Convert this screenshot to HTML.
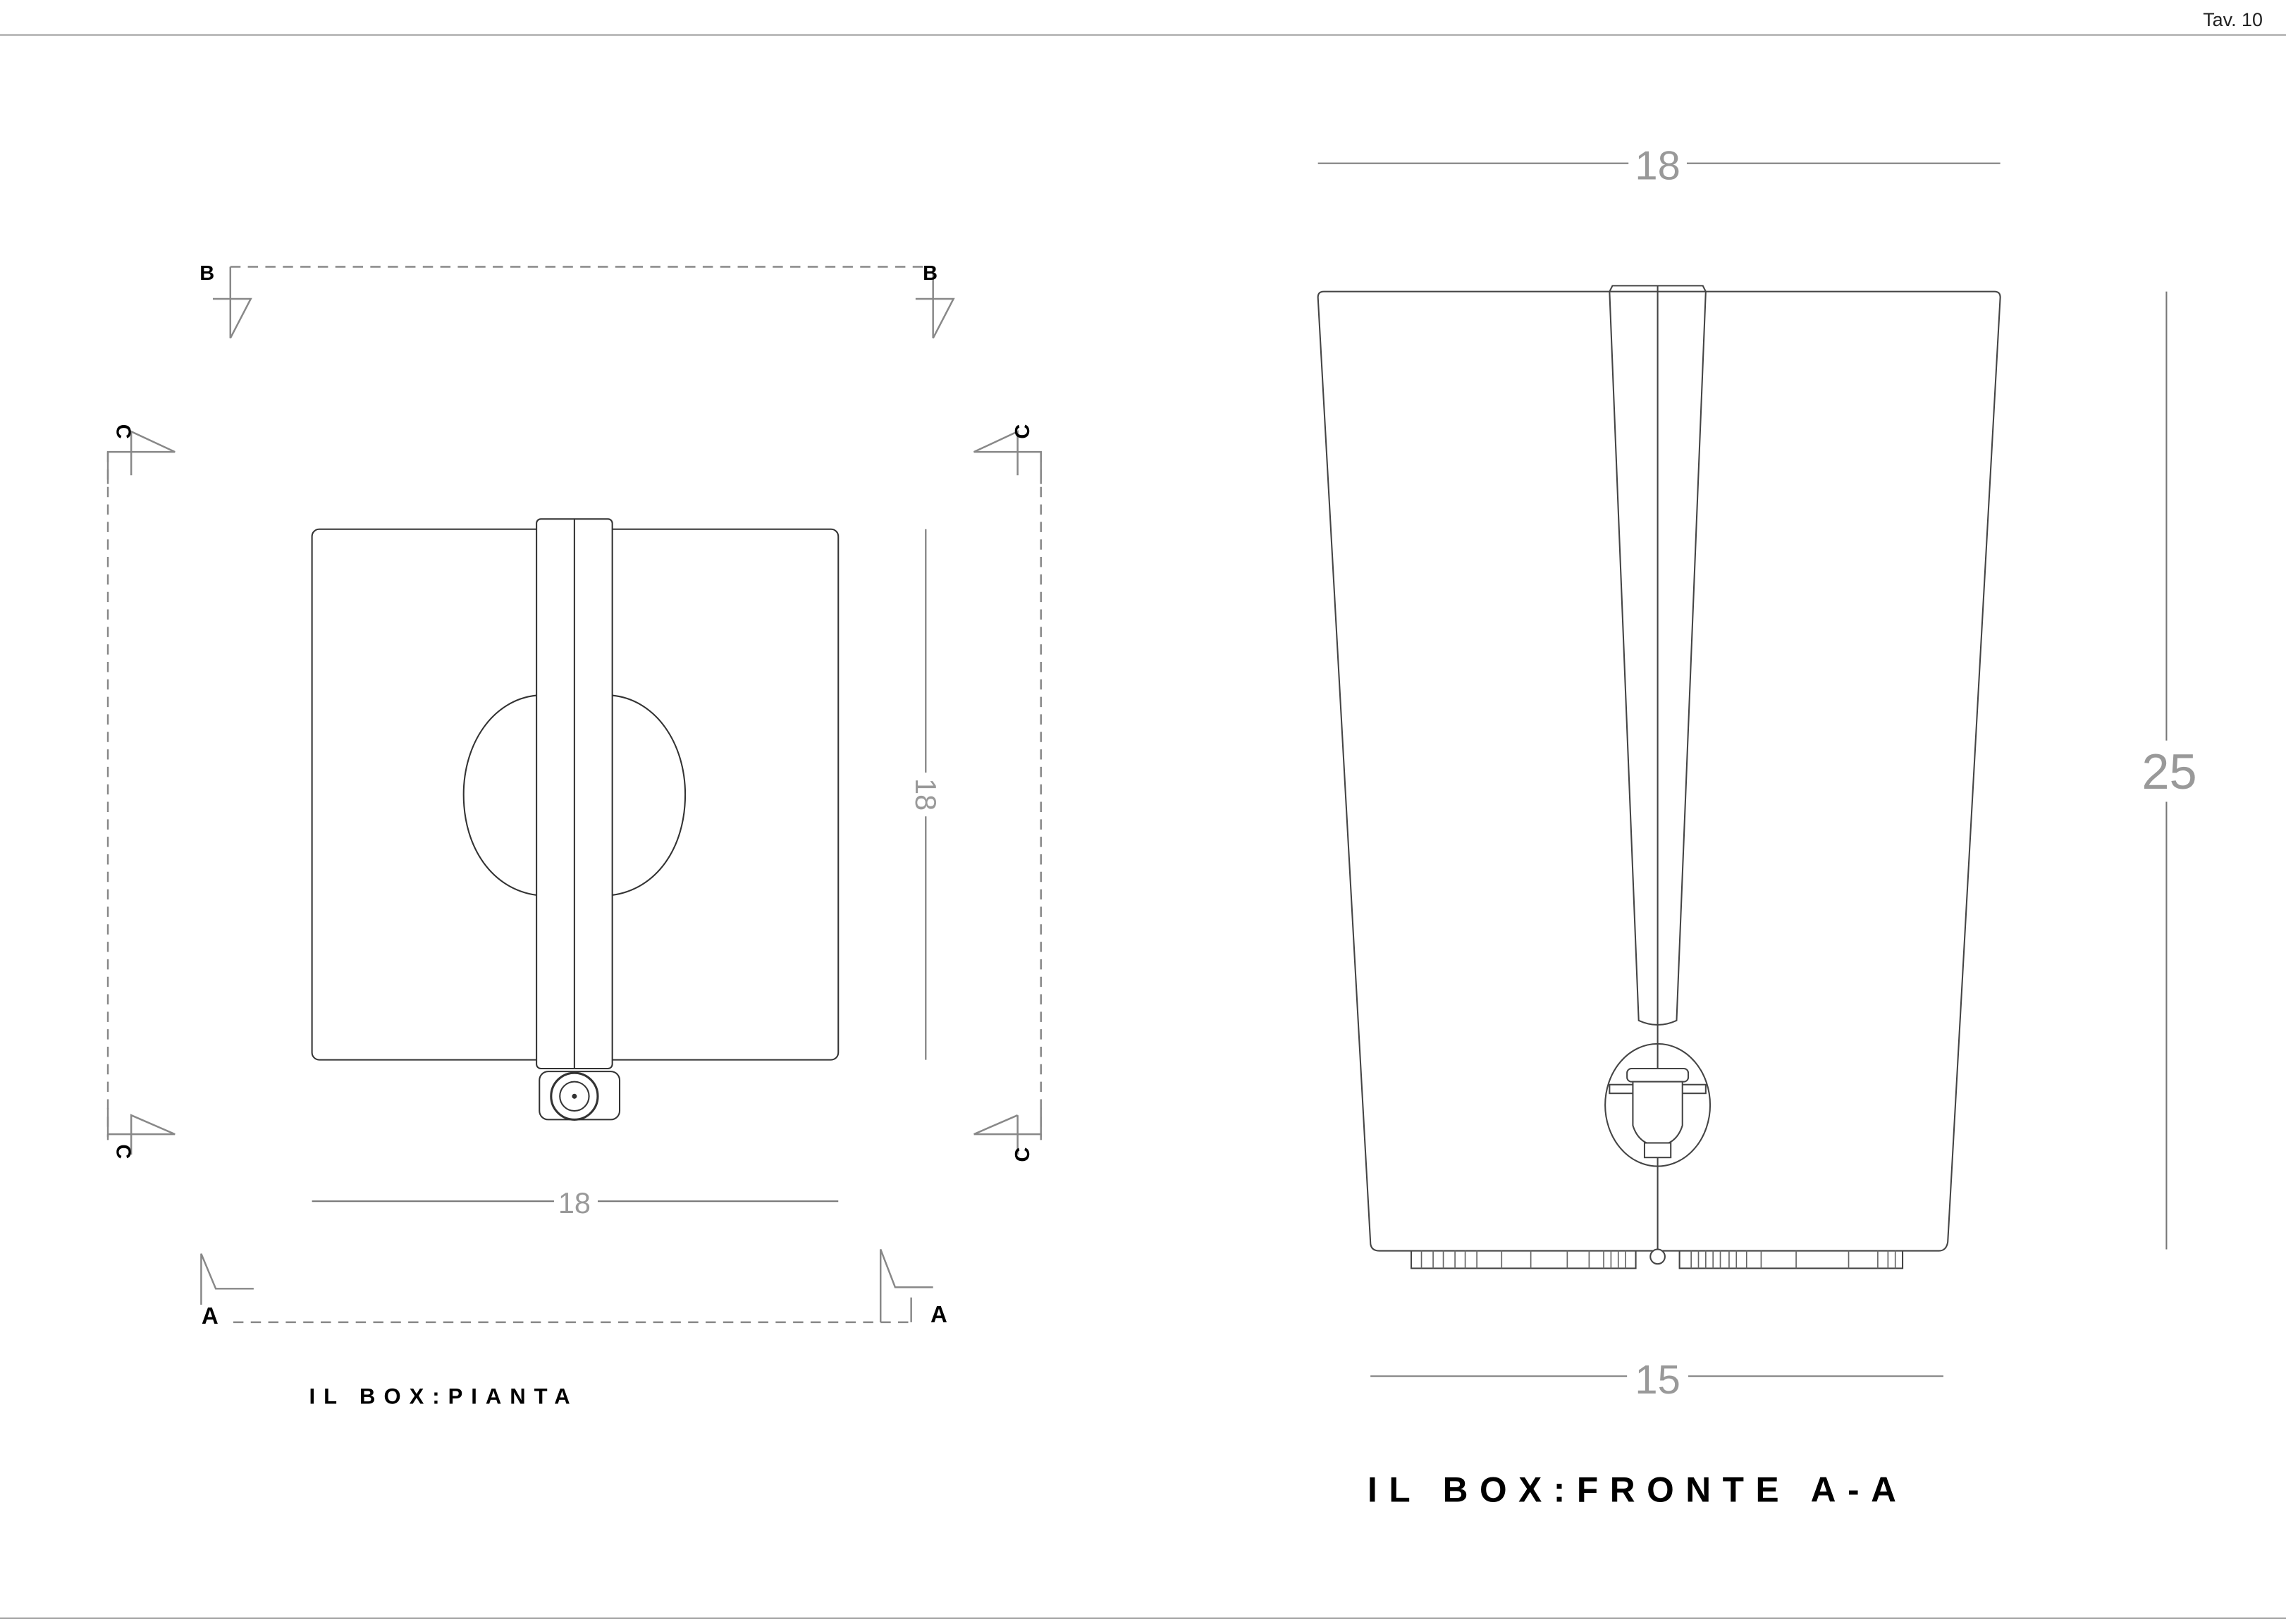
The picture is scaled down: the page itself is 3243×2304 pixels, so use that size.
<!DOCTYPE html>
<html><head><meta charset="utf-8"><style>
html,body{margin:0;padding:0;background:#fff;}
svg{display:block;}
text{font-family:"Liberation Sans",sans-serif;}
</style></head><body>
<svg width="3243" height="2304" viewBox="0 0 1568 1114" preserveAspectRatio="none" xmlns="http://www.w3.org/2000/svg">
<rect width="1568" height="1114" fill="#fff"/>
<line x1="0" y1="24" x2="1568" y2="24" stroke="#999" stroke-width="1"/>
<line x1="0" y1="1110" x2="1568" y2="1110" stroke="#999" stroke-width="1"/>
<text x="1552" y="18" font-size="13" text-anchor="end" fill="#222">Tav. 10</text>

<g fill="none" stroke="#333" stroke-width="1">
<rect x="214" y="363" width="361" height="364" rx="5"/>
<path d="M368 477 C 338 480 318 510 318 545 C 318 582 338 610 368 614"/>
<path d="M420 477 C 450 480 470 510 470 545 C 470 582 450 610 420 614"/>
<path d="M420 526 C 408 528 408 566 420 568"/>
<rect x="368" y="356" width="52" height="377" rx="3" fill="#fff"/>
<line x1="394" y1="356" x2="394" y2="733"/>
<rect x="370" y="735" width="55" height="33" rx="6"/>
<circle cx="394" cy="752" r="16" fill="#fff" stroke-width="1.5"/>
<circle cx="394" cy="752" r="10"/>
<circle cx="394" cy="752" r="1.2" fill="#333"/>
</g>

<g fill="none" stroke="#888" stroke-width="1.2">
<line x1="158" y1="183" x2="640" y2="183" stroke-dasharray="7,5"/>
<polyline points="158,183 158,232"/><polyline points="146,205 172,205 158,232"/>
<polyline points="640,183 640,232"/><polyline points="628,205 654,205 640,232"/>
<line x1="74" y1="310" x2="74" y2="780" stroke-dasharray="7,5"/>
<polyline points="74,332 74,310 120,310 90,296 90,326"/>
<polyline points="74,760 74,782"/><polyline points="74,778 120,778 90,765 90,792"/>
<line x1="714" y1="310" x2="714" y2="780" stroke-dasharray="7,5"/>
<polyline points="714,332 714,310 668,310 698,296 698,326"/>
<polyline points="714,760 714,782"/><polyline points="668,778 714,778"/><polyline points="668,778 698,765"/><line x1="698" y1="765" x2="698" y2="792"/>
<line x1="160" y1="907" x2="625" y2="907" stroke-dasharray="7,5"/>
<polyline points="138,895 138,860 148,884 174,884"/>
<polyline points="604,907 604,857 614,883 640,883"/><line x1="625" y1="890" x2="625" y2="907"/>
</g>
<g font-weight="bold" fill="#000">
<text x="142" y="192" font-size="14" text-anchor="middle">B</text>
<text x="638" y="192" font-size="14" text-anchor="middle">B</text>
<text x="80" y="296" font-size="14" text-anchor="middle" transform="rotate(90 80 296)">C</text>
<text x="80" y="790" font-size="14" text-anchor="middle" transform="rotate(90 80 790)">C</text>
<text x="706" y="296" font-size="14" text-anchor="middle" transform="rotate(-90 706 296)">C</text>
<text x="706" y="792" font-size="14" text-anchor="middle" transform="rotate(-90 706 792)">C</text>
<text x="144" y="908" font-size="16" text-anchor="middle">A</text>
<text x="644" y="907" font-size="16" text-anchor="middle">A</text>
</g>

<g stroke="#777" stroke-width="1" fill="none">
<line x1="635" y1="363" x2="635" y2="727"/>
<line x1="214" y1="824" x2="575" y2="824"/>
</g>
<rect x="380" y="814" width="30" height="20" fill="#fff"/>
<text x="394" y="832" font-size="20" fill="#999" text-anchor="middle">18</text>
<rect x="625" y="530" width="20" height="30" fill="#fff"/>
<text x="635" y="552" font-size="20" fill="#999" text-anchor="middle" transform="rotate(90 635 545)">18</text>
<text x="212" y="963" font-size="15" font-weight="bold" letter-spacing="5.8" fill="#000">IL BOX:PIANTA</text>

<g fill="none" stroke="#444" stroke-width="1">
<path d="M908 200 L1368 200 Q1372 200 1372 204 L1336 852 Q1335 858 1330 858 L946 858 Q940 858 940 852 L904 204 Q904 200 908 200 Z"/>
<path d="M1106 196 L1168 196 L1170 200 L1150 700 Q1137 706 1124 700 L1104 200 Z"/>
<line x1="1137" y1="196" x2="1137" y2="862"/>
<ellipse cx="1137" cy="758" rx="36" ry="42"/>
<rect x="1116" y="733" width="42" height="9" rx="3" fill="#fff"/>
<rect x="1104" y="744" width="66" height="6" fill="#fff"/>
<path d="M1120 742 L1120 772 Q1124 785 1137 786 Q1150 785 1154 772 L1154 742 Z" fill="#fff"/>
<rect x="1128" y="784" width="18" height="10" fill="#fff"/>
<circle cx="1137" cy="862" r="5" fill="#fff"/>
<path d="M968 858 L968 870 L1122 870 L1122 858 M1152 858 L1152 870 L1305 870 L1305 858"/>
</g>
<g stroke="#666" stroke-width="0.8">
<path d="M975 858v12M983 858v12M990 858v12M998 858v12M1005 858v12M1013 858v12M1030 858v12M1050 858v12M1075 858v12M1090 858v12M1100 858v12M1105 858v12M1110 858v12M1115 858v12M1160 858v12M1165 858v12M1170 858v12M1175 858v12M1180 858v12M1186 858v12M1191 858v12M1198 858v12M1208 858v12M1232 858v12M1268 858v12M1288 858v12M1295 858v12M1300 858v12"/>
</g>

<g stroke="#777" stroke-width="1" fill="none">
<line x1="904" y1="112" x2="1372" y2="112"/>
<line x1="1486" y1="200" x2="1486" y2="857"/>
<line x1="940" y1="944" x2="1333" y2="944"/>
</g>
<rect x="1117" y="98" width="40" height="28" fill="#fff"/>
<text x="1137" y="123" font-size="28" fill="#999" text-anchor="middle">18</text>
<rect x="1466" y="508" width="44" height="42" fill="#fff"/>
<text x="1488" y="541" font-size="34" fill="#999" text-anchor="middle">25</text>
<rect x="1116" y="930" width="42" height="28" fill="#fff"/>
<text x="1137" y="956" font-size="28" fill="#999" text-anchor="middle">15</text>
<text x="938" y="1030" font-size="24" font-weight="bold" letter-spacing="8" fill="#000">IL BOX:FRONTE A-A</text>
</svg>
</body></html>
